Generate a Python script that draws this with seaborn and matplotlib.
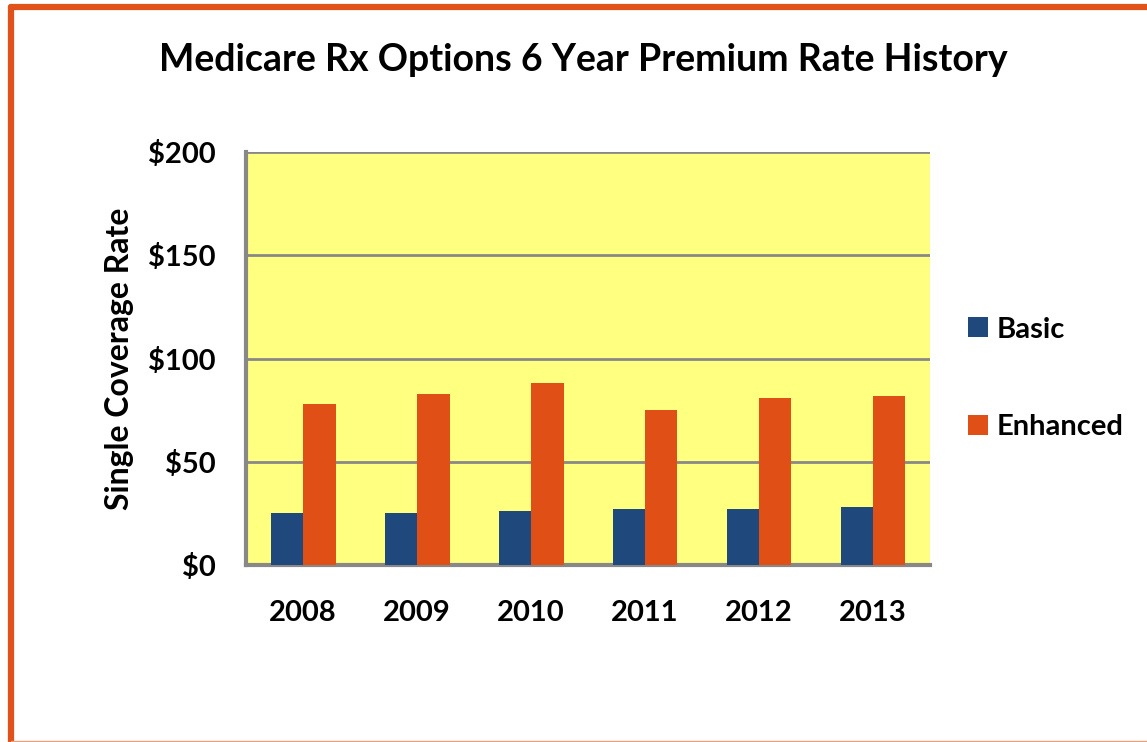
import pandas as pd
import matplotlib.pyplot as plt
import seaborn as sns
from matplotlib.patches import Patch
from matplotlib.lines import Line2D

# dados
years = ['2008', '2009', '2010', '2011', '2012', '2013']
basic = [25, 25, 26, 27, 27, 28]
enhanced = [78, 83, 88, 75, 81, 82]
plans = ['Basic', 'Enhanced']
cores = {'Basic': '#1F497D', 'Enhanced': '#E05016'}

df = pd.DataFrame({
    'year': years * 2,
    'rate': basic + enhanced,
    'plan': ['Basic'] * len(years) + ['Enhanced'] * len(years),
})

sns.set_style('white')
plt.rcParams['font.family'] = ['Lato', 'DejaVu Sans']
plt.rcParams['font.weight'] = 'bold'
plt.rcParams['text.color'] = 'black'
plt.rcParams['xtick.color'] = 'black'
plt.rcParams['ytick.color'] = 'black'
plt.rcParams['axes.labelcolor'] = 'black'

fig = plt.figure(figsize=(11.47, 7.42), dpi=100)
ax = fig.add_axes([0.2145, 0.2385, 0.5963, 0.5566])
ax.set_facecolor('#FFFF80')

sns.barplot(data=df, x='year', y='rate', hue='plan', palette=cores, saturation=1,
            width=0.57, linewidth=0, ax=ax, zorder=3)

ax.set_ylim(0, 200)
ax.set_yticks([0, 50, 100, 150, 200])
ax.set_yticklabels(['$0', '$50', '$100', '$150', '$200'])
ax.yaxis.grid(True, color='#888888', linewidth=2, zorder=1)
ax.set_axisbelow(True)
ax.tick_params(axis='both', length=0, labelsize=21)
ax.tick_params(axis='x', pad=25)
ax.tick_params(axis='y', pad=22)
for lab in ax.get_xticklabels() + ax.get_yticklabels():
    lab.set_fontweight('bold')

for s in ['top', 'right']:
    ax.spines[s].set_visible(False)
for s in ['left', 'bottom']:
    ax.spines[s].set_color('#888888')
    ax.spines[s].set_linewidth(3)

ax.set_xlabel('')
ax.set_ylabel('Single Coverage Rate', fontsize=23, fontweight='bold', labelpad=10)
ax.get_legend().remove()

handles = [Patch(facecolor=cores[p], edgecolor='none') for p in plans]
fig.legend(handles, plans, loc='center left', bbox_to_anchor=(0.831, 0.490),
           frameon=False, prop={'weight': 'bold', 'size': 21},
           handlelength=0.68, handleheight=0.68, handletextpad=0.3,
           labelspacing=2.45, borderpad=0)

fig.text(0.5087, 0.919, 'Medicare Rx Options 6 Year Premium Rate History',
         ha='center', va='center', fontsize=27, fontweight='bold')

# moldura laranja
fig.add_artist(Line2D([11 / 1147, 11 / 1147], [1 - 7 / 742, 0], transform=fig.transFigure,
                      color='#E0521A', linewidth=4.5))
fig.add_artist(Line2D([11 / 1147, 1], [1 - 7 / 742, 1 - 7 / 742], transform=fig.transFigure,
                      color='#E0521A', linewidth=4.5))
fig.add_artist(Line2D([11 / 1147, 1], [1.5 / 742, 1.5 / 742], transform=fig.transFigure,
                      color='#EBA27C', linewidth=1))

fig.savefig('out.png', dpi=100)
